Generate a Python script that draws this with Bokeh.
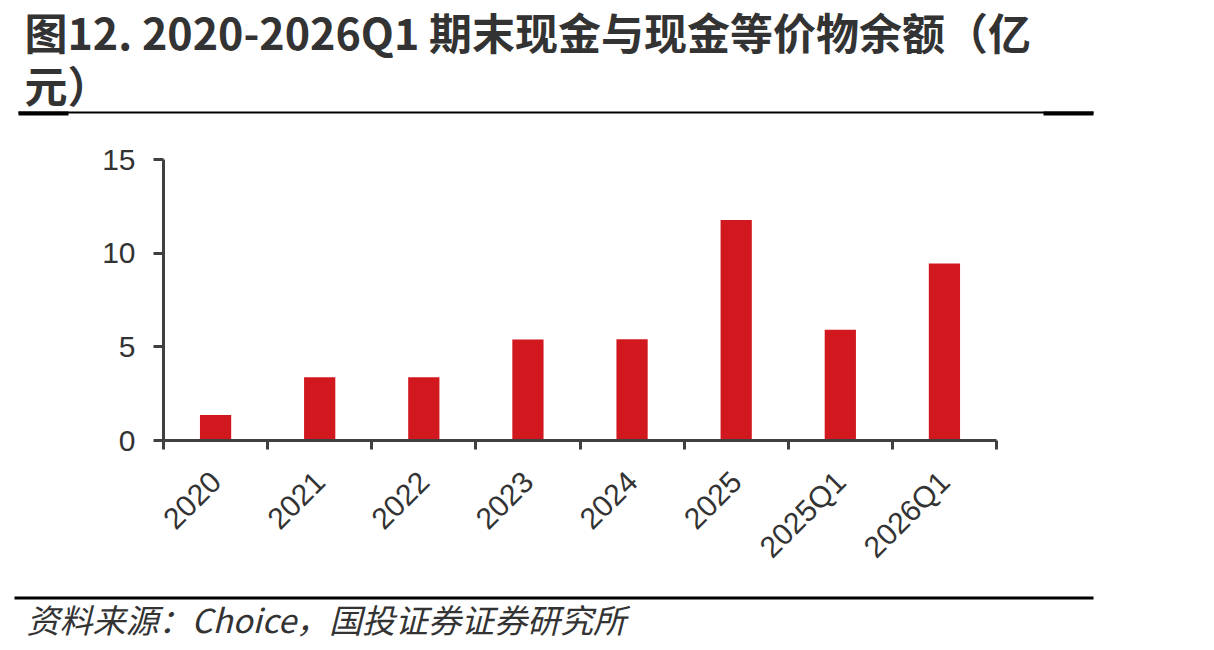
import math
import numpy as np
from bokeh.plotting import figure
from bokeh.layouts import column
from bokeh.models import Range1d, FixedTicker, Label, BoxAnnotation, LinearAxis
from bokeh.embed import file_html
from bokeh.resources import INLINE

# 期末现金与现金等价物余额（亿元）
categories = ["2020", "2021", "2022", "2023", "2024", "2025", "2025Q1", "2026Q1"]
cash_balance = [1.36, 3.37, 3.37, 5.39, 5.41, 11.77, 5.91, 9.45]
y_ticks = [0, 5, 10, 15]

title_lines = ["图12. 2020-2026Q1 期末现金与现金等价物余额（亿", "元）"]
source_text = "资料来源：Choice，国投证券证券研究所"

W = 1214
HEAD_H, MAIN_H, FOOT_H = 120, 470, 60
AXIS = "#404040"
BAR = "#D2181F"
TEXT = "#333333"


def blank(height):
    """A figure whose frame fills the whole canvas, in pixel coordinates (y down)."""
    f = figure(width=W, height=height, output_backend="svg", toolbar_location=None,
               title=None, x_range=Range1d(0, W), y_range=Range1d(height, 0),
               x_axis_type=None, y_axis_type=None, frame_align=False,
               min_border_left=0, min_border_right=0,
               min_border_top=0, min_border_bottom=0)
    f.outline_line_color = None
    f.xgrid.visible = False
    f.ygrid.visible = False
    f.background_fill_color = "white"
    f.border_fill_color = "white"
    return f


def rule(x0, x1, y0, y1):
    return BoxAnnotation(left=x0, right=x1, top=y0, bottom=y1,
                         fill_color="black", fill_alpha=1.0, line_color=None)


# ---- heading ----
head = blank(HEAD_H)
for line, ypos in zip(title_lines, [30, 83]):
    head.add_layout(Label(x=24, y=ypos, text=line, text_font="Noto Sans CJK SC",
                          text_font_style="bold", text_font_size="43px", text_color=TEXT,
                          text_baseline="middle", text_align="left"))
head.add_layout(rule(18, 1093, 111, 113))
head.add_layout(rule(18, 68, 111, 115))
head.add_layout(rule(1043, 1093, 111, 115))

# ---- bar chart ----
FL, FR, FT, FB = 163, 996, 39, 320   # frame edges inside this figure
n = len(categories)
centers = np.arange(n) + 0.5
bounds = list(range(n + 1))

p = figure(width=W, height=MAIN_H, output_backend="svg", toolbar_location=None,
           title=None, x_range=Range1d(0, n), y_range=Range1d(0, 15),
           x_axis_type=None, y_axis_type=None, frame_align=False,
           min_border_left=FL, min_border_right=W - FR,
           min_border_top=FT, min_border_bottom=MAIN_H - FB)
p.outline_line_color = None
p.xgrid.visible = False
p.ygrid.visible = False
p.background_fill_color = "white"
p.border_fill_color = "white"

p.vbar(x=centers, top=cash_balance, width=0.3, fill_color=BAR, line_color=None)

yaxis = LinearAxis(ticker=FixedTicker(ticks=y_ticks, minor_ticks=[]))
yaxis.axis_line_color = AXIS
yaxis.axis_line_width = 3
yaxis.major_tick_line_color = AXIS
yaxis.major_tick_line_width = 3
yaxis.major_tick_out = 10
yaxis.major_tick_in = 0
yaxis.minor_tick_line_color = None
yaxis.major_label_standoff = 18
yaxis.major_label_text_font = "Liberation Sans"
yaxis.major_label_text_font_size = "30px"
yaxis.major_label_text_color = TEXT
p.add_layout(yaxis, "left")

# labels at category centres, tick marks at category boundaries
xaxis = LinearAxis(ticker=FixedTicker(ticks=list(centers), minor_ticks=bounds))
xaxis.major_label_overrides = {float(c): cat for c, cat in zip(centers, categories)}
xaxis.axis_line_color = AXIS
xaxis.axis_line_width = 3
xaxis.major_tick_line_color = None
xaxis.major_tick_out = 0
xaxis.major_tick_in = 0
xaxis.minor_tick_line_color = AXIS
xaxis.minor_tick_line_width = 3
xaxis.minor_tick_out = 9
xaxis.minor_tick_in = 0
xaxis.major_label_orientation = math.pi / 4
xaxis.major_label_standoff = 27
xaxis.major_label_text_font = "Liberation Sans"
xaxis.major_label_text_font_size = "30px"
xaxis.major_label_text_color = TEXT
p.add_layout(xaxis, "below")

# ---- source note ----
foot = blank(FOOT_H)
foot.add_layout(rule(14, 1093, 6, 9))
foot.add_layout(Label(x=26, y=28, text=source_text, text_font="Noto Sans CJK SC",
                      text_font_style="italic", text_font_size="33px", text_color=TEXT,
                      text_baseline="middle", text_align="left"))

page = column(head, p, foot, spacing=0)
open("out.html", "w").write(file_html(page, INLINE))
